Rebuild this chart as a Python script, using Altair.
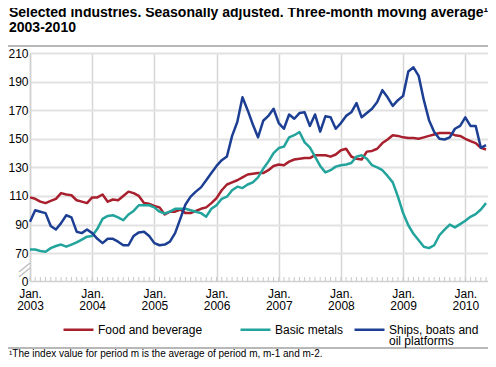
import altair as alt
import pandas as pd

# ---- data (monthly, Jan 2003 - May 2010) ----
months = pd.date_range("2003-01-01", "2010-05-01", freq="MS")

food = [109, 108, 106, 105, 106.5, 108, 112, 111, 110.5, 107, 106, 105,
        109, 109, 111, 106, 107.5, 107, 110, 113, 112, 110, 105, 104.5,
        103, 102, 97, 99, 99, 100.5, 98, 98, 99.5, 101, 102, 105,
        108.5, 114, 118, 119.5, 121, 123, 125, 125.5, 126, 126, 128, 131,
        132, 131.5, 134, 135.5, 136, 136.5, 136.5, 138.5, 138.5, 138.5, 137.5, 139,
        142, 143, 137.6, 136, 135.5, 141, 141.5, 143, 147, 149.5, 152.5, 152,
        151, 150.5, 150.5, 150, 151, 152, 153, 154, 154, 154, 152.5, 152,
        150, 148.3, 147, 143.7, 142.5]

metals = [72.5, 72.5, 71.5, 71, 73.5, 75, 76, 74.5, 76, 77.5, 79.5, 81.5,
          82, 87, 94, 96, 96.5, 95, 93, 97, 99.5, 103.5, 103.5, 103.5,
          102, 99, 97.7, 99, 101, 101, 101, 100, 99, 98, 95.5, 101,
          103.5, 108, 109.5, 114, 116.5, 115.5, 118, 119.5, 123, 129, 134, 140,
          143.5, 144.5, 151, 152.5, 154.7, 147.5, 144, 137.5, 131, 126.5, 128, 130.5,
          131.5, 132, 133, 137.5, 138.5, 136, 131.5, 130, 128, 124, 119.5, 109.5,
          98, 89.5, 83.5, 79, 74.5, 73.5, 75.5, 82.5, 86.5, 90, 88, 90.3,
          92.6, 95.4, 97.3, 100.5, 105]

ships = [92, 100, 99, 98, 89, 86.5, 91, 96.5, 95, 85, 84, 86.5,
         84, 80, 77, 80, 80, 78, 75.5, 75.5, 82, 84.5, 85, 82,
         77, 75.5, 76, 78, 84, 94, 104, 109.5, 113, 116, 121, 126,
         131, 135, 137.6, 152, 161.7, 179, 170, 160, 151, 162.6, 166, 171,
         161, 157, 167, 164, 168, 168.5, 159, 167, 155, 165.7, 165, 157,
         161, 166, 168.5, 175, 165, 168, 171, 175.7, 184, 179, 173, 177,
         180, 197, 200, 194, 177, 163, 154.7, 150, 149.5, 151, 157, 159,
         165, 159, 159, 143.7, 145.5]

series_names = ["Food and beverage", "Basic metals", "Ships, boats and oil platforms"]
series_colors = ["#a8202e", "#22a39b", "#1c3f94"]
ships_label_lines = ["Ships, boats and", "oil platforms"]
y_ticks = [70, 90, 110, 130, 150, 170, 190, 210]
y_break = 50.5          # position labelled "0" below the axis break
title_lines = ["Selected industries. Seasonally adjusted. Three-month moving average¹", "2003-2010"]
footnote = "¹The index value for period m is the average of period m, m-1 and m-2."

FONT = "Liberation Sans"
W, H = 458, 228

t = [d.year + (d.month - 1) / 12 for d in months]
years = [d.year for d in months if d.month == 1]
rows = []
for name, vals in zip(series_names, [food, metals, ships]):
    for ti, v in zip(t, vals):
        rows.append({"t": ti, "value": v, "series": name})
df = pd.DataFrame(rows)
tick_df = pd.DataFrame({"t": t})

x_scale = alt.Scale(domain=[2003, 2010.365], nice=False, zero=False)
y_scale = alt.Scale(domain=[y_break, 210], nice=False, zero=False)

x_axis = alt.Axis(
    values=years, title=None, ticks=False, grid=True,
    gridColor="#d6d6d6", gridWidth=1.5,
    labelExpr="['Jan.', format(datum.value, 'd')]",
    labelFont=FONT, labelFontSize=12, labelColor="#000000", labelPadding=7,
    labelLineHeight=12, labelOverlap=False, labelFlush=False,
    domainColor="#d0d0d0", domainWidth=1.5,
)
y_axis = alt.Axis(
    values=[y_break] + y_ticks, title=None, ticks=False, grid=True,
    gridColor="#e2e2e2", gridWidth=2,
    gridOpacity={"condition": {"test": "datum.value < 60", "value": 0}, "value": 1},
    labelExpr="datum.value < 60 ? '0' : datum.label",
    labelFont=FONT, labelFontSize=12, labelColor="#000000", labelPadding=2,
    domainColor="#d0d0d0", domainWidth=1.5,
)

food_pad = "\u2800\u2800\u2800"  # blank glyphs widening the first legend entry
lines = alt.Chart(df).mark_line(strokeWidth=2.5, strokeJoin="round").encode(
    x=alt.X("t:Q", scale=x_scale, axis=x_axis),
    y=alt.Y("value:Q", scale=y_scale, axis=y_axis),
    color=alt.Color(
        "series:N",
        scale=alt.Scale(domain=series_names, range=series_colors),
        legend=alt.Legend(
            title=None, orient="none", legendX=32, legendY=260,
            direction="horizontal", symbolType="stroke", symbolSize=900,
            symbolStrokeWidth=2.5, labelFont=FONT, labelFontSize=12,
            labelColor="#000000", labelOffset=3, columnPadding=5,
            labelLimit=0,
            labelExpr=(
                f"datum.label == '{series_names[2]}' ? '{ships_label_lines[0]}' : "
                f"datum.label == '{series_names[0]}' ? datum.label + '{food_pad}' : datum.label"
            ),
        ),
    ),
    order="t:Q",
)

month_ticks = alt.Chart(tick_df).mark_rule(color="#c8c8c8", strokeWidth=1).encode(
    x=alt.X("t:Q", scale=x_scale),
    y=alt.value(H - 4),
    y2=alt.value(H),
)

one = pd.DataFrame({"a": [0]})
sep_top = alt.Chart(one).mark_rule(color="#a0a0a0", strokeWidth=1.5).encode(
    x=alt.value(-22), x2=alt.value(W), y=alt.value(-7)
)
sep_bottom = alt.Chart(one).mark_rule(color="#a0a0a0", strokeWidth=1.5).encode(
    x=alt.value(-22), x2=alt.value(W), y=alt.value(295)
)
break1 = alt.Chart(one).mark_rule(color="#c0c0c0", strokeWidth=1.5).encode(
    x=alt.value(-11), x2=alt.value(0), y=alt.value(219), y2=alt.value(210)
)
break2 = alt.Chart(one).mark_rule(color="#c0c0c0", strokeWidth=1.5).encode(
    x=alt.value(-11), x2=alt.value(0), y=alt.value(224), y2=alt.value(215)
)
legend_line2 = alt.Chart(one).mark_text(
    align="left", baseline="middle", font=FONT, fontSize=12, color="#000000"
).encode(x=alt.value(359), y=alt.value(288), text=alt.value(ships_label_lines[1]))
note = alt.Chart(one).mark_text(
    align="left", baseline="middle", font=FONT, fontSize=10, color="#000000"
).encode(x=alt.value(-21), y=alt.value(301), text=alt.value(footnote))

chart = alt.layer(month_ticks, lines, sep_top, sep_bottom, break1, break2, legend_line2, note).properties(
    width=W, height=H,
    title=alt.Title(
        title_lines, anchor="start", frame="group", dx=-21, offset=10, font=FONT,
        fontSize=14, fontWeight="bold", color="#000000", lineHeight=15,
    ),
    autosize=alt.AutoSizeParams(type="none"),
    padding={"left": 22, "top": 45, "right": 0, "bottom": 78},
).configure_view(stroke=None).configure(background="#ffffff")

chart.save("out.html", embed_options={"renderer": "svg", "actions": False})
